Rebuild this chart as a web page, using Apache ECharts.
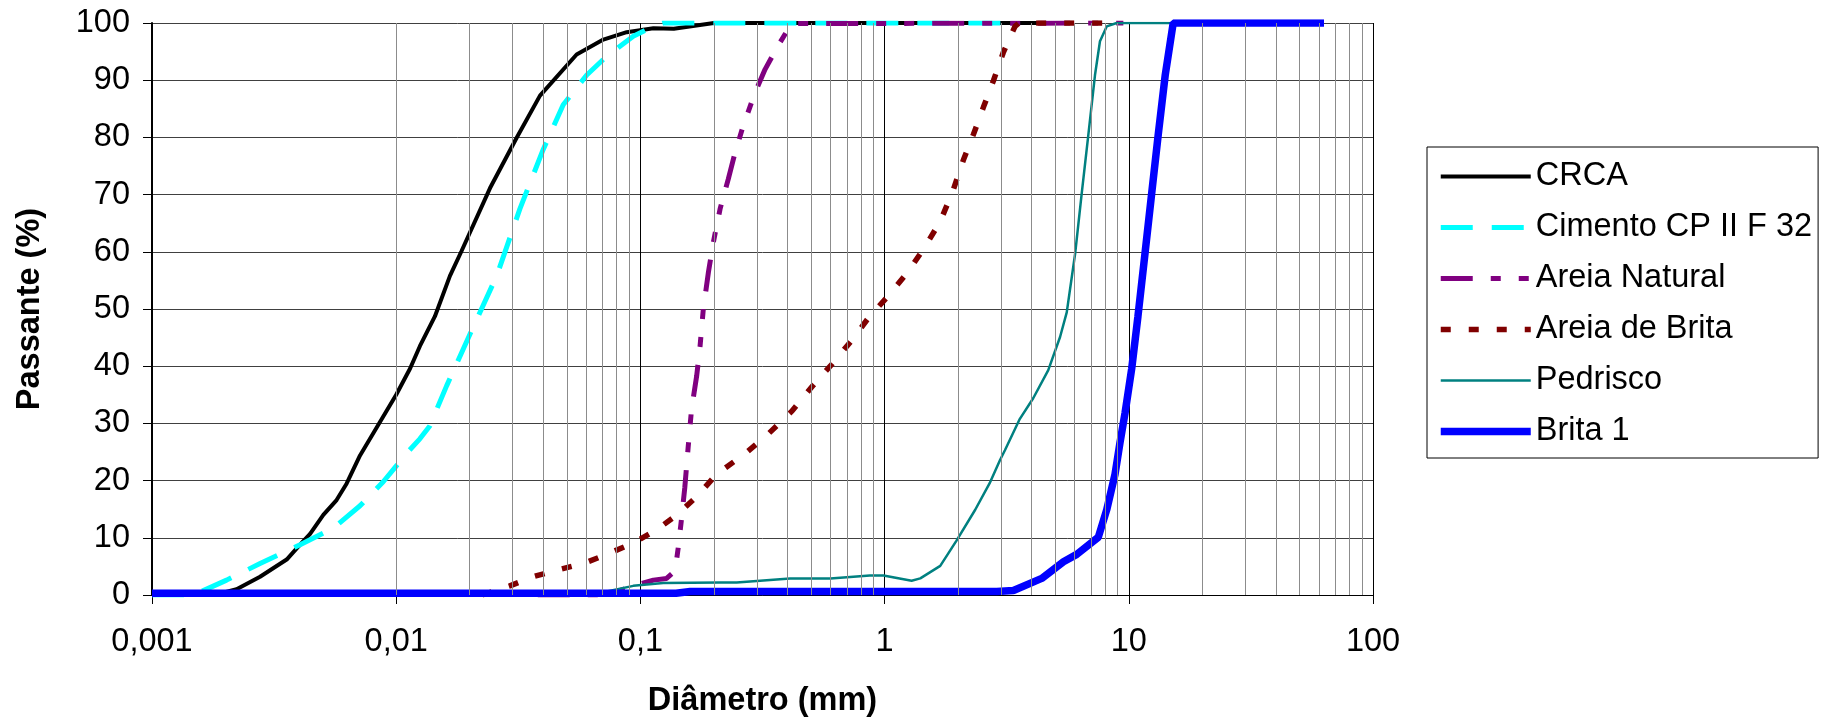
<!DOCTYPE html>
<html>
<head>
<meta charset="utf-8">
<script src="https://cdn.jsdelivr.net/npm/echarts@6/dist/echarts.min.js"></script>
<style>
html, body { margin: 0; padding: 0; background: #fff; }
#main { width: 1822px; height: 717px; }
</style>
</head>
<body>
<div id="main"></div>
<script>
// diâmetro (mm) x passante (%)
var seriesNames = ['CRCA', 'Cimento CP II F 32', 'Areia Natural', 'Areia de Brita', 'Pedrisco', 'Brita 1'];
var xTickLabels = ['0,001', '0,01', '0,1', '1', '10', '100'];

var crca = [
    [0.001, 0], [0.0018, 0], [0.00222, 1], [0.00277, 3.2], [0.00356, 6.2], [0.00404, 8.8],
    [0.00444, 10.7], [0.00503, 14], [0.0057, 16.6], [0.00627, 19.5], [0.00711, 24.4],
    [0.00885, 31.2], [0.01, 35], [0.0114, 39.6], [0.0125, 43.5], [0.0144, 48.7],
    [0.0166, 55.8], [0.0185, 60.1], [0.0242, 71.1], [0.0311, 79.9], [0.0388, 87.3],
    [0.0548, 94.5], [0.0705, 97.1], [0.0879, 98.4], [0.113, 99.1], [0.137, 99.0],
    [0.2, 100], [4.8, 100]
];
var cimento = [
    [0.001, 0], [0.00148, 0], [0.00202, 2.6], [0.00277, 5.5], [0.00404, 8.8], [0.00553, 11.7],
    [0.00711, 15.6], [0.00885, 19.8], [0.011, 24.7], [0.0125, 27.3], [0.0137, 29.5],
    [0.0161, 36.6], [0.02, 45.5], [0.0258, 55.8], [0.0321, 67.5], [0.04, 77.9],
    [0.0483, 85.7], [0.0603, 90.9], [0.0728, 94.2], [0.0935, 97.7], [0.117, 99.7],
    [0.124, 100], [3.4, 100]
];
var areiaNatural = [
    [0.038, 0], [0.073, 0], [0.0935, 1.6], [0.113, 2.6], [0.128, 2.9], [0.1387, 4.2],
    [0.143, 8.4], [0.1476, 13.6], [0.152, 18.8], [0.157, 26], [0.162, 32.5], [0.17, 38.3],
    [0.1755, 43.5], [0.181, 50], [0.19, 56.5], [0.199, 61.7], [0.212, 67.5], [0.229, 72.7],
    [0.244, 77.3], [0.264, 82.1], [0.294, 87.7], [0.324, 91.9], [0.367, 96.1],
    [0.416, 99.9], [0.42, 100], [9.5, 100]
];
var areiaBrita = [
    [0.0225, 0], [0.0292, 1.6], [0.0364, 3.2], [0.0469, 4.5], [0.0584, 5.5], [0.0728, 7.1],
    [0.0935, 9.1], [0.1166, 11.4], [0.141, 14], [0.17, 17.2], [0.205, 21.1], [0.268, 24.7],
    [0.329, 27.9], [0.416, 32.1], [0.511, 36.7], [0.607, 40.3], [0.733, 44.5], [0.857, 48.4],
    [1.035, 52.3], [1.231, 56.2], [1.44, 60.4], [1.69, 65.3], [1.91, 70.8], [2.1, 76],
    [2.31, 80.5], [2.54, 85.3], [2.79, 89.9], [3.06, 94.8], [3.42, 99.4], [3.55, 100],
    [8.0, 100]
];
var pedrisco = [
    [0.03, 0.5], [0.0483, 0.5], [0.0728, 0.6], [0.0935, 1.6], [0.124, 2.1], [0.212, 2.2],
    [0.248, 2.2], [0.41, 2.9], [0.6, 2.9], [0.87, 3.4], [0.99, 3.4], [1.29, 2.5], [1.4, 2.9],
    [1.69, 5.1], [1.97, 9.5], [2.35, 14.9], [2.69, 19.5], [2.97, 23.6], [3.11, 25.3],
    [3.58, 30.8], [4.06, 34.4], [4.68, 39.3], [5.23, 45.1], [5.57, 49.4], [6.03, 59.7],
    [6.41, 70.1], [6.83, 80.5], [7.27, 90.9], [7.62, 96.8], [8.12, 99.4], [8.92, 100],
    [19, 100]
];
var brita1 = [
    [0.001, 0.3], [0.14, 0.3], [0.16, 0.6], [2.88, 0.6], [3.37, 0.8], [4.4, 2.9], [5.4, 5.8],
    [6.12, 7.1], [7.5, 10.1], [8.12, 14.9], [8.78, 21.1], [9.2, 26.6], [9.65, 31.8],
    [10.28, 39.6], [10.9, 48.7], [11.65, 59.7], [12.4, 70.1], [13.2, 80.5], [14.1, 90.9],
    [15.2, 100], [63, 100]
];

var font = 'Liberation Sans, Arial, sans-serif';
var fontSize = 32.5;

var colors = ['#000000', '#00FFFF', '#800080', '#800000', '#008080', '#0000FF'];
var widths = [4, 5, 5, 5.5, 2.5, 7.5];
var dashes = ['solid', [32, 19], [32, 18, 10, 18, 10, 18], [10, 18], 'solid', 'solid'];
var seriesData = [crca, cimento, areiaNatural, areiaBrita, pedrisco, brita1];

// linhas secundarias do papel log (2..9 em cada decada)
var decades = [0.001, 0.01, 0.1, 1, 10];
var minorLines = [];
decades.forEach(function (d) {
    for (var m = 2; m <= 9; m++) {
        minorLines.push({ xAxis: parseFloat((m * d).toPrecision(3)) });
    }
});

var series = [{
    name: 'grade',
    type: 'line',
    data: [],
    z: 1,
    silent: true,
    markLine: {
        silent: true,
        symbol: 'none',
        animation: false,
        label: { show: false },
        lineStyle: { color: '#8c8c8c', width: 1, type: 'solid' },
        data: minorLines
    }
}];
var legendData = [];
seriesNames.forEach(function (name, i) {
    series.push({
        name: name,
        type: 'line',
        data: seriesData[i],
        symbol: 'none',
        z: 3,
        lineStyle: { color: colors[i], width: widths[i], type: dashes[i] },
        itemStyle: { color: colors[i], opacity: 0 }
    });
    legendData.push({ name: name, lineStyle: { width: widths[i] } });
});

var chart = echarts.init(document.getElementById('main'));
var option = {
    animation: false,
    backgroundColor: '#fff',
    grid: { left: 152, right: 449, top: 23, bottom: 122, outerBoundsMode: 'none', containLabel: false },
    legend: {
        orient: 'vertical',
        left: 1427,
        top: 147,
        padding: [13, 6, 10, 10],
        itemGap: 18,
        itemWidth: 90,
        itemHeight: 14,
        borderColor: '#000',
        borderWidth: 1,
        data: legendData,
        itemStyle: { opacity: 0 },
        textStyle: { fontFamily: font, fontSize: fontSize, color: '#000' }
    },
    xAxis: {
        type: 'log',
        logBase: 10,
        min: 0.001,
        max: 100,
        name: 'Diâmetro (mm)',
        nameLocation: 'middle',
        nameGap: 90,
        nameTextStyle: { fontFamily: font, fontSize: fontSize, fontWeight: 'bold', color: '#000' },
        axisLine: { lineStyle: { color: '#000', width: 1 } },
        axisTick: { show: true, length: 9, lineStyle: { color: '#000' } },
        axisLabel: {
            margin: 31,
            fontFamily: font,
            fontSize: fontSize,
            color: '#000',
            formatter: function (v) {
                return xTickLabels[Math.round(Math.log10(v) + 3)];
            }
        },
        splitLine: { show: true, lineStyle: { color: '#000', width: 1 } }
    },
    yAxis: {
        type: 'value',
        min: 0,
        max: 100,
        interval: 10,
        name: 'Passante (%)',
        nameLocation: 'middle',
        nameGap: 105,
        nameTextStyle: { fontFamily: font, fontSize: fontSize, fontWeight: 'bold', color: '#000' },
        axisLine: { show: true, lineStyle: { color: '#000', width: 2 } },
        axisTick: { show: true, length: 9, lineStyle: { color: '#000' } },
        axisLabel: { margin: 22, fontFamily: font, fontSize: fontSize, color: '#000' },
        splitLine: { show: true, lineStyle: { color: '#404040', width: 1 } }
    },
    series: series
};
chart.setOption(option);
</script>
</body>
</html>
